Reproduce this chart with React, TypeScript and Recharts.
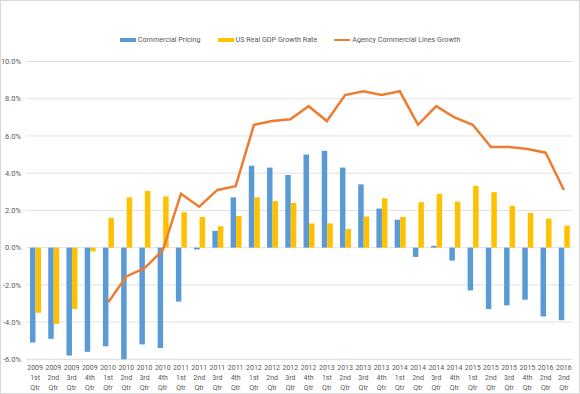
import React from 'react';
import {
  ComposedChart,
  Bar,
  Line,
  XAxis,
  YAxis,
  CartesianGrid,
} from 'recharts';

// Category labels, as printed under the axis (the last two both read "2016 2nd Qtr")
const years = [
  '2009', '2009', '2009', '2009',
  '2010', '2010', '2010', '2010',
  '2011', '2011', '2011', '2011',
  '2012', '2012', '2012', '2012',
  '2013', '2013', '2013', '2013',
  '2014', '2014', '2014', '2014',
  '2015', '2015', '2015', '2015',
  '2016', '2016',
];
const quarters = [
  '1st', '2nd', '3rd', '4th',
  '1st', '2nd', '3rd', '4th',
  '1st', '2nd', '3rd', '4th',
  '1st', '2nd', '3rd', '4th',
  '1st', '2nd', '3rd', '4th',
  '1st', '2nd', '3rd', '4th',
  '1st', '2nd', '3rd', '4th',
  '2nd', '2nd',
];

// Values in percent
const commercialPricing = [
  -5.1, -4.9, -5.8, -5.6,
  -5.3, -6.0, -5.2, -5.4,
  -2.9, -0.1, 0.9, 2.7,
  4.4, 4.3, 3.9, 5.0,
  5.2, 4.3, 3.4, 2.1,
  1.5, -0.5, 0.1, -0.7,
  -2.3, -3.3, -3.1, -2.8,
  -3.7, -3.9,
];
const gdpGrowth = [
  -3.5, -4.1, -3.3, -0.2,
  1.6, 2.7, 3.05, 2.75,
  1.9, 1.65, 1.15, 1.7,
  2.7, 2.5, 2.4, 1.3,
  1.3, 1.0, 1.67, 2.65,
  1.65, 2.44, 2.89, 2.47,
  3.32, 2.98, 2.24, 1.87,
  1.56, 1.18,
];
const agencyGrowth = [
  null, null, null, null,
  -2.95, -1.55, -1.1, -0.15,
  2.9, 2.2, 3.1, 3.3,
  6.6, 6.8, 6.9, 7.6,
  6.8, 8.2, 8.4, 8.2,
  8.4, 6.6, 7.6, 7.0,
  6.6, 5.4, 5.4, 5.3,
  5.1, 3.1,
];

const majorTicks = [-6, -4, -2, 0, 2, 4, 6, 8, 10];
const minorTicks = Array.from({ length: 41 }, (_, i) => Math.round((-6 + i * 0.4) * 10) / 10);

const data = years.map((y, i) => ({
  label: `${y} ${quarters[i]} Qtr`,
  year: y,
  quarter: quarters[i],
  pricing: commercialPricing[i],
  gdp: gdpGrowth[i],
  agency: agencyGrowth[i],
}));

const FONT = 'Roboto, "Liberation Sans", sans-serif';
const TEXT = '#595959';

const BLUE = '#5B9BD5';
const YELLOW = '#FFC000';
const ORANGE = '#ED7D31';

function QuarterTick({ x, y, index }: any) {
  const d = data[index];
  if (!d) return null;
  return (
    <g>
      <text x={x} y={y + 11} textAnchor="middle" fontSize={7} fill={TEXT} fontFamily={FONT}>
        {d.year}
      </text>
      <text x={x} y={y + 21} textAnchor="middle" fontSize={7} fill={TEXT} fontFamily={FONT}>
        {d.quarter}
      </text>
      <text x={x} y={y + 30.5} textAnchor="middle" fontSize={7} fill={TEXT} fontFamily={FONT}>
        Qtr
      </text>
    </g>
  );
}

const legendItems = [
  { name: 'Commercial Pricing', color: BLUE, bar: true },
  { name: 'US Real GDP Growth Rate', color: YELLOW, bar: true },
  { name: 'Agency Commercial Lines Growth', color: ORANGE, bar: false },
];

export default function App() {
  return (
    <div
      style={{
        position: 'absolute',
        left: 0,
        top: 0,
        width: 580,
        height: 394,
        boxSizing: 'border-box',
        border: '1px solid #d9d9d9',
        background: '#fff',
        fontFamily: FONT,
      }}
    >
      {/* Legend */}
      <div
        style={{
          position: 'absolute',
          top: 34,
          left: 0,
          width: 578,
          display: 'flex',
          justifyContent: 'center',
          gap: 17,
          fontSize: 7.2,
          color: TEXT,
          lineHeight: '10px',
        }}
      >
        {legendItems.map(item => (
          <div key={item.name} style={{ display: 'flex', alignItems: 'center', gap: 2 }}>
            <span
              style={{
                display: 'inline-block',
                width: 16,
                height: item.bar ? 4 : 2,
                background: item.color,
              }}
            />
            <span>{item.name}</span>
          </div>
        ))}
      </div>

      <ComposedChart
        width={578}
        height={392}
        data={data}
        margin={{ top: 60.5, right: 6, left: 0, bottom: 0 }}
        barGap={0}
        barSize={5.5}
      >
        <CartesianGrid yAxisId="minor" vertical={false} stroke="#f0f0f0" strokeWidth={0.8} />
        <CartesianGrid vertical={false} stroke="#d9d9d9" strokeWidth={0.8} />
        <XAxis
          dataKey="label"
          interval={0}
          height={33.7}
          axisLine={false}
          tickLine={false}
          tickSize={0}
          tickMargin={0}
          tick={<QuarterTick />}
        />
        <YAxis
          domain={[-6, 10]}
          ticks={majorTicks}
          width={25}
          axisLine={false}
          tickLine={false}
          tickSize={0}
          tickMargin={5}
          tickFormatter={(v: number) => `${v.toFixed(1)}%`}
          tick={{ fontSize: 7.5, fill: TEXT, fontFamily: FONT }}
        />
        <YAxis yAxisId="minor" hide domain={[-6, 10]} ticks={minorTicks} />
        <Bar dataKey="pricing" fill={BLUE} isAnimationActive={false} />
        <Bar dataKey="gdp" fill={YELLOW} isAnimationActive={false} />
        <Line
          type="linear"
          dataKey="agency"
          stroke={ORANGE}
          strokeWidth={2.5}
          dot={false}
          activeDot={false}
          isAnimationActive={false}
        />
      </ComposedChart>
    </div>
  );
}
